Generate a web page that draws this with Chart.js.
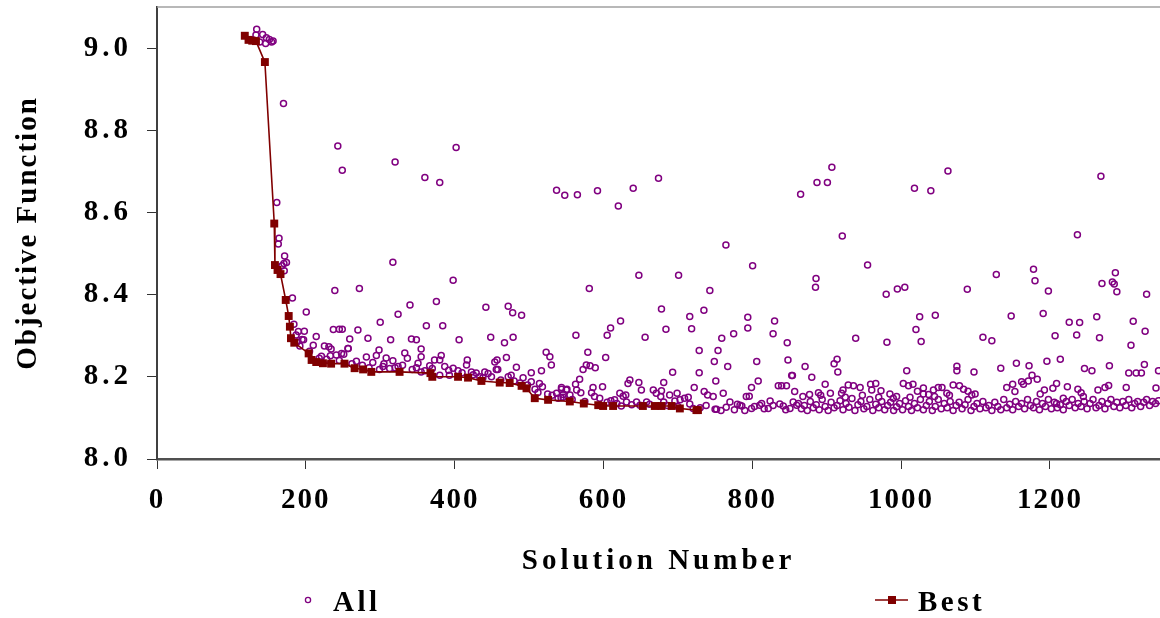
<!DOCTYPE html>
<html>
<head>
<meta charset="utf-8">
<style>
  html, body { margin: 0; padding: 0; background: #fff; }
  #wrap { width: 1160px; height: 618px; }
</style>
<script src="https://cdn.jsdelivr.net/npm/chart.js@4.4.1/dist/chart.umd.min.js"></script>
</head>
<body>
<div id="wrap"><canvas id="c" width="1160" height="618"></canvas></div>
<script>
// ---------------- DATA ----------------
const xTicks = [0, 200, 400, 600, 800, 1000, 1200];
const yTicks = [8.0, 8.2, 8.4, 8.6, 8.8, 9.0];
const seriesNames = ['All', 'Best'];

// "Best" : solution number, objective function
const bestPoints = [
  [118,9.03],[123,9.02],[128,9.018],[133,9.017],[145,8.966],[157.6,8.573],[158.5,8.472],[162,8.46],[166,8.45],
  [173,8.387],[177,8.348],[178.6,8.322],[180,8.294],[184.5,8.283],[203.8,8.257],[207.8,8.241],[214,8.236],
  [223,8.233],[234,8.232],[252,8.232],[265.6,8.221],[277,8.218],[288,8.212],[326,8.212],[367.5,8.209],[370,8.2],
  [404.6,8.2],[418,8.198],[436,8.19],[460.6,8.186],[474,8.185],[490,8.178],[496.6,8.172],[507.7,8.148],
  [525.6,8.144],[554.8,8.14],[573.6,8.135],[593,8.131],[599.6,8.129],[613,8.129],[653,8.129],[669,8.129],
  [678,8.129],[691.6,8.129],[702.7,8.123],[725,8.119],[727,8.119]
];

// "All" : solution number, objective function
const allPoints = [
  // early
  [134,9.046],[142,9.033],[133,9.032],[147,9.025],[151,9.021],[156,9.017],[146,9.011],[138,9.015],[154,9.015],[128,9.02],
  [170,8.865],[161,8.624],[164,8.537],[163,8.523],[171.5,8.494],[174,8.478],[170.6,8.476],[171,8.458],[168,8.47],
  [182,8.392],[184,8.328],[187,8.302],[190,8.31],[198,8.311],[195,8.291],[197,8.29],[200.6,8.358],[210,8.277],[214,8.298],
  [225,8.275],[231,8.273],[234,8.268],[237,8.315],[239,8.41],[241,8.253],[233,8.251],[249,8.316],[251,8.255],[257,8.269],
  [243,8.762],[249,8.703],[188,8.285],[192,8.275],[205,8.262],[218,8.245],[228,8.243],[245,8.24],[221,8.25],
  // 250-550 outliers
  [320,8.723],[360,8.685],[380,8.673],[402,8.758],[317,8.479],[272,8.415],[398,8.435],[300,8.333],[324,8.352],
  [340,8.375],[375.5,8.383],[362,8.324],[384,8.324],[245,8.316],[259,8.292],[270,8.314],[283.5,8.294],[314,8.29],
  [342,8.292],[348.6,8.29],[406,8.29],[442,8.369],[448.5,8.296],[467,8.283],[478.6,8.296],[472,8.372],[478,8.356],[490,8.35],
  [537,8.654],[548,8.642],[565,8.643],[592,8.653],[620,8.616],[640,8.659],[674,8.683],
  // 250-550 band
  [256.6,8.269],[248,8.257],[281.4,8.248],[294.8,8.252],[298.4,8.265],[308,8.246],[317,8.239],[333,8.258],[336.5,8.245],
  [355,8.268],[355,8.249],[350.8,8.233],[373,8.241],[382,8.252],[380,8.241],[386.7,8.225],[416,8.229],[417,8.241],
  [398,8.221],[429,8.209],[440.5,8.212],[454,8.236],[457,8.241],[469.6,8.247],[456,8.218],[483,8.223],[476,8.204],
  [492,8.198],[503,8.21],[516.7,8.215],[523,8.26],[528,8.249],[530,8.229],[503,8.188],[514,8.184],[518,8.176],
  [537,8.16],[543.6,8.174],[545.8,8.15],[550,8.168],[539,8.148],[303.7,8.225],[299,8.218],[312.7,8.22],[324,8.225],
  [348.6,8.222],[355,8.212],[366.5,8.227],[380,8.204],[393,8.204],[404.6,8.215],[422.6,8.212],[433.7,8.2],[449.5,8.2],
  [458,8.218],[472,8.2],[262,8.232],[268,8.238],[276,8.228],[285,8.222],[290,8.235],[305,8.232],[320,8.222],[330,8.228],
  [343,8.218],[360,8.215],[370,8.22],[392,8.216],[410,8.21],[425,8.205],[438,8.198],[445,8.208],[462,8.192],[480,8.19],
  [488,8.185],[498,8.18],[508,8.17],[512,8.162],[525,8.158],[531,8.155],
  // 550-860
  [764.6,8.521],[800.5,8.47],[581,8.415],[647.6,8.447],[701,8.447],[743,8.41],[678,8.365],[735,8.362],[716,8.347],
  [794,8.345],[830,8.336],[623,8.336],[609.6,8.319],[605,8.301],[563,8.301],[684,8.316],[718.5,8.317],[656,8.296],
  [794,8.319],[828,8.305],[775,8.305],[759,8.294],[847,8.283],
  [579,8.26],[603,8.247],[577,8.229],[582,8.227],[589,8.222],[572.6,8.218],[568,8.194],[562.5,8.182],[569.6,8.161],
  [551,8.17],[546,8.157],[586,8.174],[598.8,8.176],[633,8.184],[635.5,8.192],[647.6,8.186],[681,8.186],[693,8.211],
  [667,8.168],[651,8.168],[626.5,8.153],[630,8.156],[677,8.152],[689,8.156],[699,8.16],[714,8.15],[722,8.174],
  [728.7,8.21],[728.7,8.264],[749,8.237],[751,8.19],[754,8.264],[767,8.225],[761,8.16],[735.4,8.164],[740,8.156],
  [747.5,8.152],[752,8.121],[770,8.139],[783.5,8.131],[792,8.152],[796,8.153],[799,8.174],[806,8.237],[808,8.19],
  [810,8.131],[824,8.141],[835,8.178],[839.5,8.178],[846,8.178],[848,8.241],[853,8.203],[857,8.164],[841.7,8.129],
  [855,8.139],[644.5,8.139],[658,8.139],[649,8.131],[624,8.129],[681,8.139],[696,8.141],[716,8.134],[720.6,8.123],
  [750,8.121],[786,8.129],[799,8.123],[812.6,8.135],[821.5,8.123],[837,8.134],[850.7,8.123],[859.7,8.131],
  [564,8.168],[555,8.156],[543.6,8.17],[543,8.149],[584,8.161],[588,8.152],[595,8.148],[615,8.144],[622,8.16],
  [631,8.139],[671,8.16],[678,8.166],[703,8.144],[709,8.148],
  [558,8.145],[575,8.14],[605,8.138],[610,8.142],[618,8.135],[638,8.132],[662,8.133],[686,8.13],[700,8.128],
  [730,8.125],[738,8.13],[758,8.118],[765,8.126],[776,8.12],[780,8.133],[790,8.118],[803,8.128],[816,8.122],
  [828,8.13],[845,8.12],
  // 860-1100
  [865,8.644],[887,8.673],[901,8.673],[907,8.71],[1018,8.659],[1040,8.653],[1063,8.701],[921,8.543],[955,8.472],
  [885.7,8.439],[885,8.418],[980,8.401],[995,8.414],[1005,8.418],[1089,8.413],[1025,8.346],[1046,8.35],[1020,8.315],
  [1027,8.286],[939,8.294],[981,8.284],[1110,8.296],[1122,8.288],
  [871,8.225],[854,8.203],[880,8.199],[914,8.243],[910,8.232],[915,8.212],[898,8.182],[877,8.157],[889,8.161],
  [929,8.18],[936,8.178],[922,8.168],[920,8.16],[945,8.174],[959,8.182],[966,8.184],[960.6,8.168],[973,8.166],
  [1007.6,8.215],[1003,8.184],[1010,8.178],[1016,8.182],[1030,8.173],[1037,8.157],[1043.5,8.168],[1050,8.174],
  [1055,8.174],[1070,8.18],[1075,8.226],[1075,8.215],[1078.5,8.178],[1084,8.17],[1098,8.212],[1095,8.156],
  [1099.5,8.158],[1061.5,8.16],[1030,8.158],[989.5,8.148],[994,8.152],
  [868,8.152],[892,8.155],[905,8.16],[925,8.15],[948,8.155],[970,8.15],[985,8.158],[1012,8.15],[1022,8.165],
  [1045,8.152],[1065,8.155],[1090,8.165],
  [862,8.135],[866,8.122],[870,8.13],[874,8.118],[878,8.14],[882,8.125],[886,8.132],[890,8.12],[894,8.145],
  [898,8.128],[902,8.118],[906,8.138],[910,8.125],[914,8.13],[918,8.142],[922,8.12],[926,8.135],[930,8.126],
  [934,8.147],[938,8.118],[942,8.132],[946,8.14],[950,8.122],[954,8.128],[958,8.145],[962,8.118],[966,8.133],
  [970,8.125],[974,8.14],[978,8.12],[982,8.13],[986,8.138],[990,8.118],[994,8.127],[998,8.135],[1002,8.12],
  [1006,8.142],[1010,8.128],[1014,8.118],[1018,8.135],[1022,8.125],[1026,8.145],[1030,8.12],[1034,8.13],
  [1038,8.14],[1042,8.118],[1046,8.128],[1050,8.145],[1054,8.122],[1058,8.135],[1062,8.125],[1066,8.14],
  [1070,8.118],[1074,8.13],[1078,8.138],[1082,8.122],[1086,8.132],[1090,8.145],[1094,8.118],[1098,8.128],
  // 1100-1348
  [1268.6,8.688],[1237,8.546],[1128,8.449],[1178,8.462],[1180,8.434],[1198,8.409],[1270,8.427],[1284,8.431],
  [1288,8.453],[1286.5,8.426],[1290,8.407],[1330,8.401],[1148,8.348],[1191,8.354],[1226,8.333],[1240,8.332],
  [1263,8.346],[1312,8.335],[1207,8.3],[1236,8.302],[1266.7,8.295],[1309,8.277],[1328,8.311],[1134,8.221],
  [1155,8.233],[1172,8.227],[1196,8.238],[1214,8.243],[1246.5,8.22],[1256.5,8.215],[1280,8.227],[1306,8.209],
  [1316,8.209],[1323,8.209],[1327,8.23],[1346,8.215],
  [1142,8.174],[1150,8.182],[1153,8.164],[1162,8.188],[1164.5,8.182],[1171,8.19],[1176,8.204],[1183,8.194],
  [1192.6,8.168],[1204,8.172],[1209,8.184],[1223.5,8.176],[1237.6,8.17],[1242,8.161],[1264.6,8.168],[1274,8.174],
  [1279,8.179],[1302.6,8.174],[1342.6,8.173],[1245,8.152],[1218,8.148],[1187,8.158],[1209,8.135],
  [1102,8.135],[1106,8.122],[1110,8.14],[1114,8.125],[1118,8.13],[1122,8.118],[1126,8.138],[1130,8.128],
  [1134,8.12],[1138,8.145],[1142,8.125],[1146,8.133],[1150,8.12],[1154,8.14],[1158,8.128],[1162,8.135],
  [1166,8.122],[1170,8.145],[1174,8.13],[1178,8.125],[1182,8.14],[1186,8.12],[1190,8.135],[1194,8.128],
  [1198,8.145],[1202,8.122],[1206,8.138],[1210,8.125],[1214,8.132],[1218,8.12],[1222,8.14],[1226,8.13],
  [1230,8.145],[1234,8.125],[1238,8.135],[1242,8.128],[1246,8.14],[1250,8.122],[1254,8.135],[1258,8.145],
  [1262,8.125],[1266,8.13],[1270,8.14],[1274,8.122],[1278,8.135],[1282,8.145],[1286,8.128],[1290,8.138],
  [1294,8.125],[1298,8.14],[1302,8.13],[1306,8.145],[1310,8.125],[1314,8.135],[1318,8.14],[1322,8.128],
  [1326,8.138],[1330,8.145],[1334,8.13],[1338,8.14],[1342,8.135],[1346,8.142]
];

// ---------------- STYLE ----------------
const FONT = '"Liberation Serif", "Times New Roman", serif';
const ALL_COLOR = '#800080';
const BEST_COLOR = '#800000';
Chart.defaults.font.family = FONT;
Chart.defaults.color = '#000';

const toXY = arr => arr.map(p => ({ x: p[0], y: p[1] }));

const topBorder = {
  id: 'topBorder',
  afterDraw(chart) {
    const { ctx, chartArea: a } = chart;
    ctx.save();
    ctx.strokeStyle = '#a0a0a0';
    ctx.lineWidth = 1.5;
    ctx.beginPath();
    ctx.moveTo(a.left, a.top);
    ctx.lineTo(a.right, a.top);
    ctx.stroke();
    ctx.restore();
  }
};

// letter spacing for axis texts (wide typography of the original)
const SPACING = { x: { title: '4px', labels: '2px' }, y: { title: '2px', labels: '4px' } };
const letterSpacing = {
  id: 'letterSpacing',
  beforeDraw(chart) {
    const ctx = chart.ctx;
    ['x', 'y'].forEach(id => {
      const s = chart.scales[id];
      if (!s || s._lsPatched) return;
      const t = s.drawTitle.bind(s), l = s.drawLabels.bind(s);
      s.drawTitle = function (...a) { ctx.letterSpacing = SPACING[id].title; t(...a); ctx.letterSpacing = '0px'; };
      s.drawLabels = function (...a) { ctx.letterSpacing = SPACING[id].labels; l(...a); ctx.letterSpacing = '0px'; };
      s._lsPatched = true;
    });
  }
};

const customLegend = {
  id: 'customLegend',
  afterDraw(chart) {
    const ctx = chart.ctx;
    const dsAll = chart.data.datasets[0];
    const dsBest = chart.data.datasets[1];
    ctx.save();
    ctx.letterSpacing = '3.5px';
    ctx.font = 'bold 29px ' + FONT;
    ctx.fillStyle = '#000';
    ctx.textBaseline = 'alphabetic';
    ctx.textAlign = 'left';
    // All
    ctx.strokeStyle = dsAll.pointBorderColor;
    ctx.lineWidth = 1.3;
    ctx.beginPath();
    ctx.arc(308, 600, 2.6, 0, Math.PI * 2);
    ctx.stroke();
    ctx.fillText(dsAll.label, 333, 611);
    // Best
    ctx.strokeStyle = dsBest.borderColor;
    ctx.lineWidth = 1.5;
    ctx.beginPath();
    ctx.moveTo(875, 600);
    ctx.lineTo(908, 600);
    ctx.stroke();
    ctx.fillStyle = dsBest.pointBackgroundColor;
    ctx.fillRect(888, 596, 8, 8);
    ctx.fillStyle = '#000';
    ctx.fillText(dsBest.label, 918, 611);
    ctx.letterSpacing = '0px';
    ctx.restore();
  }
};

const tickFont = { family: FONT, size: 29, weight: 'bold' };
const titleFont = { family: FONT, size: 29, weight: 'bold' };

new Chart(document.getElementById('c'), {
  type: 'scatter',
  data: {
    datasets: [
      {
        label: seriesNames[0],
        data: toXY(allPoints),
        showLine: false,
        pointStyle: 'circle',
        pointRadius: 3,
        pointBorderWidth: 1.5,
        pointBorderColor: ALL_COLOR,
        borderColor: ALL_COLOR,
        pointBackgroundColor: 'rgba(0,0,0,0)',
        backgroundColor: 'rgba(0,0,0,0)',
        order: 2
      },
      {
        label: seriesNames[1],
        data: toXY(bestPoints),
        showLine: true,
        borderColor: BEST_COLOR,
        borderWidth: 1.6,
        pointStyle: 'rect',
        pointRadius: 5.6,
        pointBorderWidth: 0,
        pointBackgroundColor: BEST_COLOR,
        pointBorderColor: BEST_COLOR,
        backgroundColor: BEST_COLOR,
        tension: 0,
        order: 1
      }
    ]
  },
  options: {
    responsive: false,
    animation: false,
    devicePixelRatio: 1,
    layout: { autoPadding: false, padding: { top: 7, right: 0, bottom: 0, left: 0 } },
    plugins: {
      legend: { display: false },
      tooltip: { enabled: false }
    },
    scales: {
      x: {
        type: 'linear',
        min: 0,
        max: 1348,
        afterBuildTicks: s => { s.ticks = xTicks.map(v => ({ value: v })); },
        afterFit: s => { s.height = 159; s.paddingLeft = 0; s.paddingRight = 0; },
        grid: { drawOnChartArea: false, drawTicks: true, tickLength: 10, color: '#333', lineWidth: 1 },
        border: { display: true, color: '#505050', width: 2.5 },
        ticks: { font: tickFont, color: '#000', padding: 14, maxRotation: 0, autoSkip: false,
                 callback: v => String(v) },
        title: { display: true, text: 'Solution Number', font: titleFont, color: '#000',
                 padding: { top: 0, bottom: 39 } }
      },
      y: {
        type: 'linear',
        min: 8.0,
        max: 9.1,
        afterBuildTicks: s => { s.ticks = yTicks.map(v => ({ value: v })); },
        afterFit: s => { s.width = 157; s.paddingTop = 0; s.paddingBottom = 0; },
        grid: { drawOnChartArea: false, drawTicks: true, tickLength: 10, color: '#333', lineWidth: 1 },
        border: { display: true, color: '#404040', width: 2 },
        ticks: { font: tickFont, color: '#000', padding: 15,
                 callback: v => Number(v).toFixed(1) },
        title: { display: true, text: 'Objective Function', font: titleFont, color: '#000',
                 padding: { top: 11, bottom: 0 } }
      }
    }
  },
  plugins: [topBorder, letterSpacing, customLegend]
});
</script>
</body>
</html>
